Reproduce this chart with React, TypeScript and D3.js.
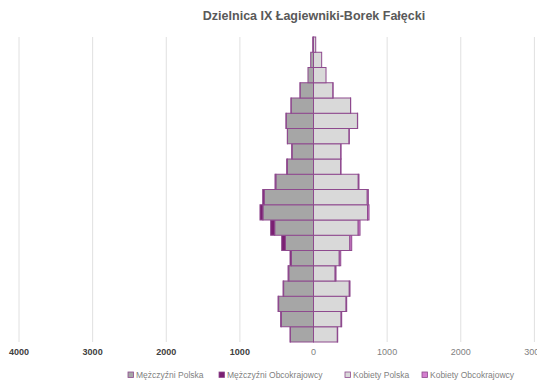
import React from "react";
import * as d3 from "d3";

const ageGroups = ["0-4","5-9","10-14","15-19","20-24","25-29","30-34","35-39","40-44","45-49","50-54","55-59","60-64","65-69","70-74","75-79","80-84","85-89","90-94","95+"];
const menPolska = [314, 438, 474, 406, 336, 299, 382, 527, 687, 670, 511, 356, 291, 353, 371, 304, 182, 75, 38, 11];
const menObcokrajowcy = [5, 8, 8, 8, 10, 20, 50, 55, 40, 20, 12, 8, 5, 3, 3, 2, 1, 0, 0, 0];
const womenPolska = [324, 375, 443, 486, 294, 350, 494, 607, 734, 730, 608, 368, 370, 483, 597, 503, 264, 170, 111, 30];
const womenObcokrajowcy = [5, 8, 8, 10, 12, 20, 25, 25, 20, 15, 10, 6, 4, 3, 3, 2, 1, 0, 0, 0];
const tickValues = [-4000, -3000, -2000, -1000, 0, 1000, 2000, 3000];
const legendLabels = ["Mężczyźni Polska", "Mężczyźni Obcokrajowcy", "Kobiety Polska", "Kobiety Obcokrajowcy"];
const title = "Dzielnica IX Łagiewniki-Borek Fałęcki";

const W = 537, H = 389;
const STROKE = "#8e4a8e";
const colors = ["#a6a6a6", "#7a1f72", "#d9d9d9", "#d47fcf"];
const FONT = "'Liberation Sans', Arial, sans-serif";

export default function App() {
  const x = d3.scaleLinear().domain([-4000, 4000]).range([19, 608]);
  const y = d3.scaleBand<string>().domain([...ageGroups].reverse()).range([37, 342]).padding(0);
  const bw = y.bandwidth();

  const bars: React.ReactNode[] = [];
  ageGroups.forEach((g, i) => {
    const yy = y(g)!;
    const mp = menPolska[i], mo = menObcokrajowcy[i];
    const wp = womenPolska[i], wo = womenObcokrajowcy[i];
    bars.push(
      <rect key={"mp" + i} x={x(-mp)} y={yy} width={x(0) - x(-mp)} height={bw} fill={colors[0]} stroke={STROKE} strokeWidth={1} />
    );
    if (mo > 0) bars.push(
      <rect key={"mo" + i} x={x(-mp - mo)} y={yy} width={x(-mp) - x(-mp - mo)} height={bw} fill={colors[1]} stroke={STROKE} strokeWidth={1} />
    );
    bars.push(
      <rect key={"wp" + i} x={x(0)} y={yy} width={x(wp) - x(0)} height={bw} fill={colors[2]} stroke={STROKE} strokeWidth={1} />
    );
    if (wo > 0) bars.push(
      <rect key={"wo" + i} x={x(wp)} y={yy} width={x(wp + wo) - x(wp)} height={bw} fill={colors[3]} stroke={STROKE} strokeWidth={1} />
    );
  });

  const legendX = [128, 219, 345, 422];

  return (
    <svg width={W} height={H} style={{ position: "absolute", left: 0, top: 0, background: "#fff" }} fontFamily={FONT}>
      <rect x={0} y={0} width={W} height={H} fill="#fff" />
      <text x={314} y={20} textAnchor="middle" fontSize={12.5} fontWeight="bold" fill="#595959">{title}</text>
      {tickValues.map(t => (
        <line key={"g" + t} x1={x(t)} x2={x(t)} y1={37} y2={342} stroke="#e0e0e0" strokeWidth={1} />
      ))}
      {bars}
      {tickValues.map(t => (
        <text key={"t" + t} x={x(t)} y={355} textAnchor="middle" fontSize={9} fill={t < 0 ? "#404040" : "#7f7f7f"} fontWeight={t < 0 ? "bold" : "normal"}>{Math.abs(t)}</text>
      ))}
      {legendLabels.map((l, i) => (
        <g key={"l" + i} transform={`translate(${legendX[i]},375)`}>
          <rect x={0} y={-3} width={5.5} height={5.5} fill={colors[i]} stroke={STROKE} strokeWidth={0.8} />
          <text x={8} y={2.5} fontSize={8.5} fill="#7f7f7f">{l}</text>
        </g>
      ))}
    </svg>
  );
}
